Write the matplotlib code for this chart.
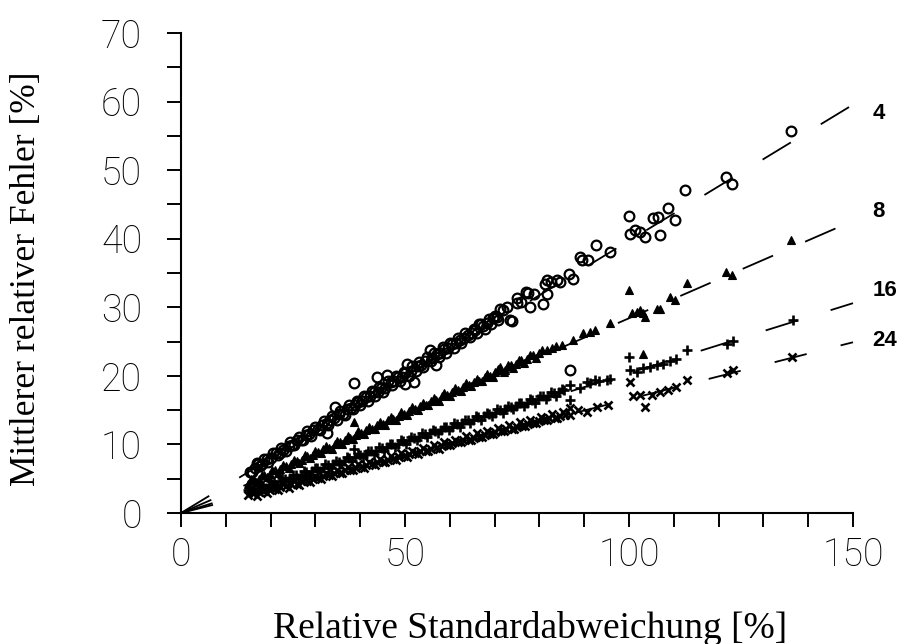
import numpy as np
import matplotlib.pyplot as plt
from matplotlib.ticker import MultipleLocator, FixedLocator

plt.rcParams['lines.scale_dashes'] = False

# --- data: relative standard deviation (x) vs. mean relative error (y), in % ---
groups = ['4', '8', '16', '24']
slopes = [0.397, 0.284, 0.204, 0.166]      # fitted lines through the origin
label_y = [58.3, 43.9, 32.5, 25.2]

x4 = [15.3, 16.5, 17.2, 18.0, 19.1, 20.0, 21.2, 22.0, 22.8, 24.0, 24.8, 25.9, 26.7,
      27.8, 28.6, 29.5, 30.6, 31.4, 32.5, 32.6, 33.3, 34.2, 34.4, 35.2, 36.1, 37.0,
      38.0, 38.7, 38.9, 39.6, 40.5, 41.3, 42.2, 43.0, 43.7, 43.9, 44.6, 45.5, 45.9,
      46.8, 47.6, 48.5, 49.3, 50.0, 50.1, 50.4, 51.3, 51.9, 52.8, 53.6, 54.5, 55.6,
      56.0, 57.0, 57.2, 57.9, 58.8, 59.6, 60.5, 61.4, 62.2, 63.1, 64.0, 64.9, 65.7,
      66.6, 67.4, 68.3, 69.7, 70.5, 71.2, 71.9, 72.7, 73.4, 73.8, 74.9, 74.9, 75.8,
      77.1, 77.5, 77.9, 78.8, 80.9, 81.3, 81.6, 81.6, 82.7, 83.9, 84.6, 86.5, 86.8,
      87.6, 89.1, 89.4, 90.9, 92.6, 95.8, 99.9, 100.2, 101.3, 102.5, 103.6, 105.4,
      106.5, 106.9, 108.8, 110.3, 112.6, 121.7, 122.9, 136.1]
y4 = [6.0, 6.5, 7.1, 7.2, 7.9, 8.0, 8.7, 8.8, 9.2, 9.7, 9.9, 10.6, 10.7,
      11.4, 11.5, 12.1, 12.3, 12.9, 13.1, 11.6, 13.5, 13.9, 15.5, 14.4, 14.5, 15.1,
      15.3, 18.9, 15.8, 16.2, 16.3, 16.9, 17.0, 17.6, 19.9, 17.7, 18.2, 18.3, 20.1,
      19.1, 19.2, 19.8, 19.9, 18.8, 20.4, 21.8, 20.7, 19.1, 21.4, 21.6, 22.1, 23.8,
      22.6, 21.6, 23.2, 23.4, 23.9, 24.1, 24.6, 24.8, 25.3, 25.5, 26.0, 26.2, 26.7,
      27.6, 27.3, 27.7, 28.4, 28.6, 29.8, 29.6, 30.1, 28.1, 28.0, 30.6, 31.3, 30.8,
      32.3, 32.1, 30.1, 32.0, 30.5, 33.4, 34.0, 32.0, 33.7, 34.0, 33.7, 34.9, 20.8,
      34.1, 37.4, 36.9, 36.9, 39.1, 38.0, 43.3, 40.7, 41.2, 41.0, 40.3, 43.0,
      43.1, 40.5, 44.5, 42.7, 47.1, 49.0, 48.0, 55.7]
# second pass through the crowded part of the band
x4b = [15.8, 16.9, 17.6, 18.5, 19.5, 20.6, 21.6, 22.4, 23.4, 24.4, 25.3, 26.3, 27.2,
       28.2, 29.0, 30.0, 31.0, 31.9, 32.9, 33.8, 34.8, 35.6, 36.5, 37.5, 38.4, 39.2,
       40.0, 40.9, 41.8, 42.6, 43.4, 44.2, 45.0, 46.2, 47.2, 48.0, 48.9, 49.7, 50.8,
       51.6, 52.4, 53.2, 54.0, 55.0, 55.8, 56.5, 57.5, 58.4, 59.2, 60.0, 60.9, 61.8,
       62.6, 63.5, 64.4, 65.3, 66.1, 67.0, 67.8, 68.8, 69.2, 70.0, 70.8]
y4b = [6.0, 7.3, 6.8, 7.9, 7.5, 8.8, 8.4, 9.5, 9.1, 10.3, 9.9, 11.1, 10.6,
       11.9, 11.3, 12.6, 12.1, 13.4, 12.9, 14.2, 13.6, 14.9, 14.3, 15.7, 15.1, 16.4,
       15.7, 17.1, 16.4, 17.8, 17.1, 18.4, 17.7, 19.2, 18.6, 20.0, 19.3, 20.6, 20.0,
       21.4, 20.7, 22.0, 21.3, 22.8, 22.1, 23.4, 22.8, 24.2, 23.4, 24.8, 24.1, 25.5,
       24.8, 26.2, 25.6, 26.9, 26.2, 27.6, 26.9, 28.3, 27.5, 28.8, 28.1]

x8 = [15.0, 16.2, 17.5, 18.6, 19.8, 21.0, 22.2, 23.4, 24.6, 25.8, 27.0, 28.2, 29.4,
      30.6, 31.8, 33.0, 34.4, 35.4, 36.6, 37.8, 38.7, 39.0, 40.2, 41.4, 42.6, 43.8,
      45.0, 46.2, 47.4, 48.6, 49.8, 51.0, 52.2, 53.4, 54.6, 55.8, 57.0, 58.2, 59.4,
      60.6, 61.8, 63.0, 64.2, 65.4, 66.6, 67.8, 69.0, 70.2, 71.2, 72.4, 73.6, 74.8,
      76.0, 77.2, 78.6, 79.8, 81.6, 82.8, 83.8, 85.0, 87.6, 89.8, 91.3, 92.4, 95.8,
      100.1, 100.6, 101.7, 102.5, 103.2, 103.2, 103.6, 106.2, 106.9, 109.2, 110.3,
      112.9, 121.7, 122.9, 136.1]
y8 = [4.3, 4.8, 5.0, 5.5, 5.7, 6.2, 6.4, 6.9, 7.1, 7.6, 7.8, 8.3, 8.5,
      8.9, 9.3, 9.5, 10.0, 10.3, 10.7, 10.9, 13.3, 11.4, 11.6, 12.1, 12.3, 12.8,
      13.0, 13.5, 13.7, 14.2, 14.4, 14.9, 15.1, 15.6, 15.8, 16.3, 16.5, 17.0, 17.2,
      17.7, 17.9, 18.4, 18.6, 19.1, 19.3, 19.8, 20.0, 20.5, 21.3, 20.9, 21.6, 21.7,
      22.3, 22.4, 23.0, 23.3, 23.8, 24.0, 24.3, 24.5, 25.2, 26.2, 26.4, 26.7, 27.7,
      32.5, 29.2, 29.3, 29.6, 29.1, 23.2, 28.6, 29.8, 29.7, 31.5, 31.0,
      33.5, 35.2, 34.7, 39.8]
x8b = [15.6, 16.8, 18.0, 19.2, 20.4, 21.6, 22.8, 24.0, 25.2, 26.4, 27.6, 28.8, 30.0,
       31.2, 32.4, 33.6, 34.8, 36.0, 37.2, 38.4, 39.6, 40.8, 42.0, 43.2, 44.4, 45.6,
       46.8, 48.0, 49.2, 50.4, 51.6, 52.8, 54.0, 55.2, 56.4, 57.6, 58.8, 60.0, 61.2,
       62.4, 63.6, 64.8, 66.0, 67.2, 68.4, 69.6, 70.8, 72.0, 73.0, 74.2, 75.4, 76.6,
       77.8, 79.2, 80.6]
y8b = [4.9, 4.5, 5.6, 5.2, 6.3, 5.9, 7.0, 6.6, 7.7, 7.3, 8.4, 8.0, 9.1,
       8.7, 9.8, 9.4, 10.5, 10.1, 11.2, 10.8, 11.9, 11.5, 12.6, 12.2, 13.3, 12.9,
       14.0, 13.6, 14.7, 14.3, 15.4, 15.0, 16.1, 15.7, 16.8, 16.4, 17.5, 17.1, 18.2,
       17.8, 18.9, 18.5, 19.6, 19.2, 20.3, 19.9, 21.0, 20.6, 21.6, 21.2, 22.3, 21.9,
       23.0, 22.6, 23.8]

x16 = [15.0, 16.0, 17.2, 18.4, 19.6, 20.8, 22.0, 23.2, 24.4, 25.6, 26.8, 28.0, 29.2,
       30.4, 31.6, 32.8, 34.0, 35.2, 36.4, 37.6, 38.7, 38.8, 40.0, 41.2, 42.4, 43.6,
       44.8, 46.0, 47.2, 48.4, 49.6, 50.8, 52.0, 53.2, 54.4, 55.6, 56.8, 58.0, 59.2,
       60.4, 61.6, 62.8, 64.0, 65.2, 66.4, 67.6, 68.8, 70.0, 71.2, 72.4, 73.6, 74.8,
       76.0, 77.2, 78.4, 79.6, 80.8, 82.0, 83.2, 84.4, 85.6, 86.8, 86.8, 89.1, 90.6,
       91.3, 92.4, 93.2, 95.0, 95.8, 99.9, 100.2, 101.7, 103.2, 104.7, 106.2, 107.7,
       109.2, 110.6, 112.9, 121.8, 123.3, 136.7]
y16 = [3.3, 3.5, 3.7, 4.0, 4.1, 4.5, 4.6, 5.0, 5.1, 5.5, 5.6, 6.0, 6.1,
       6.5, 6.6, 7.0, 7.1, 7.5, 7.6, 8.0, 9.4, 8.1, 8.5, 8.6, 9.0, 9.1,
       9.5, 9.6, 10.0, 10.1, 10.5, 10.6, 11.0, 11.1, 11.5, 11.6, 12.0, 12.1, 12.5,
       12.6, 13.0, 13.1, 13.5, 13.6, 14.0, 14.1, 14.5, 14.6, 15.0, 15.1, 15.5, 15.6,
       16.0, 16.1, 16.5, 16.6, 17.0, 17.1, 17.5, 17.6, 18.0, 18.7, 16.5, 18.2, 19.1,
       18.9, 19.4, 19.3, 19.4, 19.5, 22.8, 20.8, 20.6, 21.1, 21.3, 21.6, 21.8,
       22.1, 22.4, 23.8, 24.7, 25.1, 28.1]
x16b = [15.5, 16.6, 17.8, 19.0, 20.2, 21.4, 22.6, 23.8, 25.0, 26.2, 27.4, 28.6, 29.8,
        31.0, 32.2, 33.4, 34.6, 35.8, 37.0, 38.2, 39.4, 40.6, 41.8, 43.0, 44.2, 45.4,
        46.6, 47.8, 49.0, 50.2, 51.4, 52.6, 53.8, 55.0, 56.2, 57.4, 58.6, 59.8, 61.0,
        62.2, 63.4, 64.6, 65.8, 67.0, 68.2, 69.4, 70.6, 71.8, 73.0, 74.2, 75.4, 76.6,
        77.8, 79.0, 80.2, 81.4, 82.6, 83.8, 85.0]
y16b = [3.6, 3.1, 4.1, 3.6, 4.6, 4.1, 5.1, 4.6, 5.6, 5.1, 6.1, 5.6, 6.6,
        6.1, 7.1, 6.6, 7.6, 7.1, 8.1, 7.6, 8.6, 8.1, 9.1, 8.6, 9.6, 9.1,
        10.1, 9.6, 10.6, 10.1, 11.1, 10.6, 11.6, 11.1, 12.1, 11.6, 12.6, 12.1, 13.1,
        12.6, 13.6, 13.1, 14.1, 13.6, 14.6, 14.1, 15.1, 14.6, 15.6, 15.1, 16.1, 15.6,
        16.6, 16.1, 17.1, 16.6, 17.6, 17.1, 18.1]

x24 = [15.0, 15.4, 16.2, 17.4, 18.0, 18.6, 19.8, 21.0, 22.2, 23.4, 24.6, 25.8, 27.0,
       28.2, 29.4, 30.6, 31.8, 33.0, 34.2, 35.4, 36.6, 37.8, 39.0, 40.2, 41.4, 42.6,
       43.8, 45.0, 46.2, 47.4, 48.6, 49.8, 51.0, 52.2, 53.4, 54.6, 55.8, 57.0, 58.2,
       59.4, 60.6, 61.8, 63.0, 64.2, 65.4, 66.6, 67.8, 69.0, 70.2, 71.4, 72.6, 73.8,
       75.0, 76.2, 77.4, 78.6, 79.8, 81.0, 82.2, 83.4, 84.6, 85.8, 86.8, 86.8, 88.7,
       90.6, 92.8, 95.4, 100.2, 101.0, 102.5, 103.6, 105.1, 106.9, 108.8, 110.6,
       112.9, 121.8, 123.3, 136.3]
y24 = [2.6, 3.4, 2.9, 3.0, 3.4, 3.2, 3.4, 3.5, 3.8, 3.9, 4.2, 4.3, 4.6,
       4.7, 5.0, 5.1, 5.4, 5.5, 5.8, 5.9, 6.2, 6.3, 6.6, 6.7, 7.0, 7.1,
       7.4, 7.5, 7.8, 7.9, 8.2, 8.3, 8.6, 8.7, 9.0, 9.1, 9.4, 9.5, 9.8,
       9.9, 10.2, 10.3, 10.6, 10.7, 11.0, 11.1, 11.4, 11.5, 11.8, 11.9, 12.2, 12.3,
       12.6, 12.7, 13.0, 13.1, 13.4, 13.5, 13.8, 13.9, 14.2, 14.3, 14.3, 15.3, 15.0,
       14.8, 15.5, 15.7, 19.1, 17.0, 17.2, 15.4, 17.2, 17.7, 18.0, 18.4,
       19.4, 20.4, 20.8, 22.7]
x24b = [16.0, 17.0, 18.2, 19.2, 20.4, 21.6, 22.8, 24.0, 25.2, 26.4, 27.6, 28.8, 30.0,
        31.2, 32.4, 33.6, 34.8, 36.0, 37.2, 38.4, 39.6, 40.8, 42.0, 43.2, 44.4, 45.6,
        46.8, 48.0, 49.2, 50.4, 51.6, 52.8, 54.0, 55.2, 56.4, 57.6, 58.8, 60.0, 61.2,
        62.4, 63.6, 64.8, 66.0, 67.2, 68.4, 69.6, 70.8, 72.0, 73.2, 74.4, 75.6, 76.8,
        78.0, 79.2, 80.4, 81.6, 82.8, 84.0, 85.2]
y24b = [3.1, 2.5, 3.4, 2.9, 3.8, 3.3, 4.2, 3.7, 4.6, 4.1, 5.0, 4.5, 5.4,
        5.0, 5.9, 5.4, 6.3, 5.8, 6.7, 6.2, 7.1, 6.6, 7.5, 7.0, 7.9, 7.4,
        8.3, 7.8, 8.7, 8.2, 9.1, 8.6, 9.5, 9.0, 9.9, 9.4, 10.3, 9.9, 10.7,
        10.3, 11.2, 10.7, 11.6, 11.1, 12.0, 11.5, 12.4, 11.9, 12.8, 12.3, 13.2, 12.7,
        13.6, 13.1, 14.0, 13.5, 14.4, 13.9, 14.8]

xs = [x4 + x4b, x8 + x8b, x16 + x16b, x24 + x24b]
ys = [y4 + y4b, y8 + y8b, y16 + y16b, y24 + y24b]
styles = [dict(marker='o', ms=7, mfc='none', mec='black', mew=1.6),
          dict(marker='^', ms=6.2, mfc='black', mec='black', mew=0.8),
          dict(marker='+', ms=7, mec='black', mew=1.9),
          dict(marker='x', ms=6, mec='black', mew=1.9)]

fig = plt.figure(figsize=(9.07, 6.44), dpi=100)
ax = fig.add_axes([181 / 907, 1 - 513 / 644, 672 / 907, 480 / 644])

xline = np.array([0, 150])
for g, k, ly, xv, yv, st in zip(groups, slopes, label_y, xs, ys, styles):
    ax.plot(xline, k * xline, color='black', lw=1.3, dashes=(23.8, 25.2),
            clip_on=False, zorder=2)
    ax.plot(xv, yv, ls='none', clip_on=False, zorder=3, **st)
    ax.text(154.3, ly, g, fontsize=16, fontweight='bold',
            family='Liberation Sans', va='center', ha='left', clip_on=False)

ax.set_xlim(0, 150)
ax.set_ylim(0, 70)
for s in ['top', 'right']:
    ax.spines[s].set_visible(False)
for s in ['left', 'bottom']:
    ax.spines[s].set_linewidth(1.5)

ax.xaxis.set_major_locator(FixedLocator([0, 50, 100, 150]))
ax.xaxis.set_minor_locator(MultipleLocator(10))
ax.yaxis.set_major_locator(MultipleLocator(10))
ax.yaxis.set_minor_locator(MultipleLocator(5))
ax.tick_params(which='both', direction='out', length=10, width=1.4, color='black')
ax.tick_params(axis='x', which='major', pad=7)
ax.tick_params(axis='y', which='major', pad=18)
for lab in ax.get_xticklabels() + ax.get_yticklabels():
    lab.set_family('Roboto')
    lab.set_fontweight('light')
    lab.set_fontsize(27)

fig.text(530 / 907, 1 - 628 / 644, 'Relative Standardabweichung [%]',
         family='Liberation Serif', fontsize=27, ha='center', va='center')
fig.text(27 / 907, 1 - 279 / 644, 'Mittlerer relativer Fehler [%]',
         family='Liberation Serif', fontsize=25.5, ha='center', va='center',
         rotation=90)

fig.savefig('out.png', dpi=100)
